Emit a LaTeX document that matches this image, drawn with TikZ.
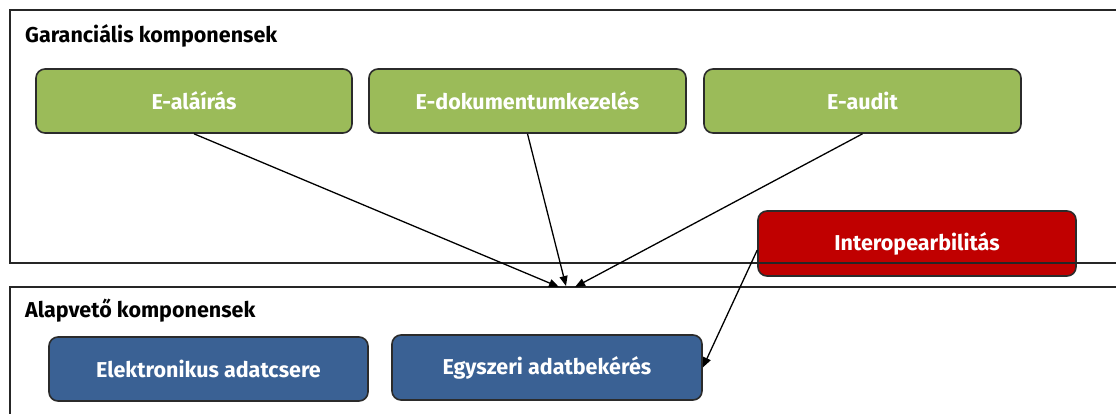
\documentclass[tikz,border=0pt]{standalone}
\usepackage{fontspec}
\setmainfont{Fira Sans}
\usetikzlibrary{arrows.meta,calc}
\definecolor{grn}{HTML}{9BBB59}
\definecolor{rd}{HTML}{C00000}
\definecolor{bl}{HTML}{3A6194}
\definecolor{edge}{HTML}{2B2B2B}
\begin{document}
\begin{tikzpicture}[x=1pt,y=-1pt,
  box/.style={draw=edge,line width=1.6pt,rounded corners=9pt,inner sep=0pt,
    text=white,font=\fontsize{21.5}{24}\selectfont\bfseries},
  frame/.style={draw=black!85,line width=1.5pt,inner sep=0pt},
  ttl/.style={anchor=west,font=\fontsize{21.5}{24}\selectfont\bfseries,inner sep=0pt},
  arr/.style={line width=1.3pt,-{Triangle[length=10pt,width=8pt]}}]
\useasboundingbox (0,0) rectangle (1116,413);
% red box drawn first so the frame line shows over it
\node[box,fill=rd,minimum width=318pt,minimum height=65pt] (red) at (917,243.5) {Interopearbilitás};
% frames
\node[frame,minimum width=1108pt,minimum height=253pt] (frame1) at (564,136.5) {};
\node[frame,minimum width=1108pt,minimum height=160pt] (frame2) at (564,367) {};
\node[ttl] (t1) at (25,36) {Garanciális komponensek};
\node[ttl] (t2) at (25,311) {Alapvető komponensek};
% green boxes
\node[box,fill=grn,minimum width=316pt,minimum height=64pt] (ea) at (194,101) {E-aláírás};
\node[box,fill=grn,minimum width=317pt,minimum height=64pt] (ed) at (527.5,101) {E-dokumentumkezelés};
\node[box,fill=grn,minimum width=317pt,minimum height=64pt] (eu) at (862.5,101) {E-audit};
% blue boxes
\node[box,fill=bl,minimum width=319pt,minimum height=64pt] (ek) at (208.5,369) {Elektronikus adatcsere};
\node[box,fill=bl,minimum width=310pt,minimum height=65pt] (eg) at (547,367.5) {Egyszeri adatbekérés};
% arrow targets
\coordinate (m1) at (559,287);
\coordinate (m2) at (566,286);
\coordinate (m3) at (575,287);
\draw[arr] (ea.south) -- (m1);
\draw[arr] (ed.south) -- (m2);
\draw[arr] (eu.south) -- (m3);
\draw[arr] ($(red.north west)!0.6!(red.south west)$) -- (eg.east);
\end{tikzpicture}
\end{document}
